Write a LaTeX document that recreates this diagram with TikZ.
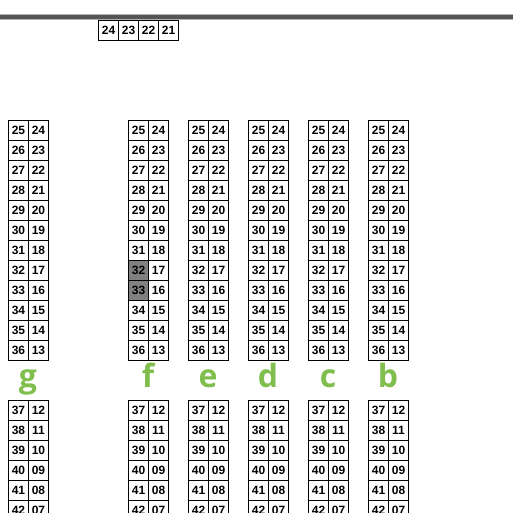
\documentclass[tikz,border=0pt]{standalone}
\usepackage{fontspec}
\setmainfont{Liberation Sans}
\newfontfamily\letterfont{Open Sans}
\definecolor{lettergreen}{RGB}{128,190,78}
\definecolor{seatgray}{RGB}{128,128,128}
\definecolor{barcolor}{RGB}{85,85,85}
\begin{document}
\begin{tikzpicture}[x=1pt,y=-1pt,
  seat/.style={draw,line width=1pt,minimum width=20pt,minimum height=20pt,inner sep=0pt,
    font=\bfseries\fontsize{12}{12}\selectfont,anchor=north west},
  rowlabel/.style={text=lettergreen,font=\letterfont\bfseries\fontsize{32}{32}\selectfont,anchor=base,inner sep=0pt}]
\useasboundingbox (0,0) rectangle (513,513);
\clip (0,0) rectangle (513,513);
\fill[barcolor] (0,14) rectangle (513,19);
\draw[gray!60,line width=0.6pt] (0,14) -- (513,14) (0,19) -- (513,19);
% top row
\foreach \n [count=\k from 0] in {24,23,22,21}
  \node[seat] (top-\n) at (98+20*\k,20) {\n};
\def\fcol{f}
\foreach \c/\x in {g/8,f/128,e/188,d/248,c/308,b/368}{
  \foreach \i in {0,...,11}{
    \pgfmathtruncatemacro\l{25+\i}
    \pgfmathtruncatemacro\r{24-\i}
    \def\fc{white}
    \ifx\c\fcol
      \ifnum\l=32 \def\fc{seatgray}\fi
      \ifnum\l=33 \def\fc{seatgray}\fi
    \fi
    \node[seat,fill=\fc] (\c-\l) at (\x,120+20*\i) {\l};
    \node[seat] (\c-\r) at (\x+20,120+20*\i) {\r};
  }
  \node[rowlabel] (lab-\c) at (\x+20,387) {\c};
  \foreach \i in {0,...,5}{
    \pgfmathtruncatemacro\l{37+\i}
    \pgfmathtruncatemacro\r{12-\i}
    \node[seat] (\c-\l) at (\x,400+20*\i) {\l};
    \node[seat] (\c-\r) at (\x+20,400+20*\i) {\ifnum\r<10 0\fi\r};
  }
}
\end{tikzpicture}
\end{document}
